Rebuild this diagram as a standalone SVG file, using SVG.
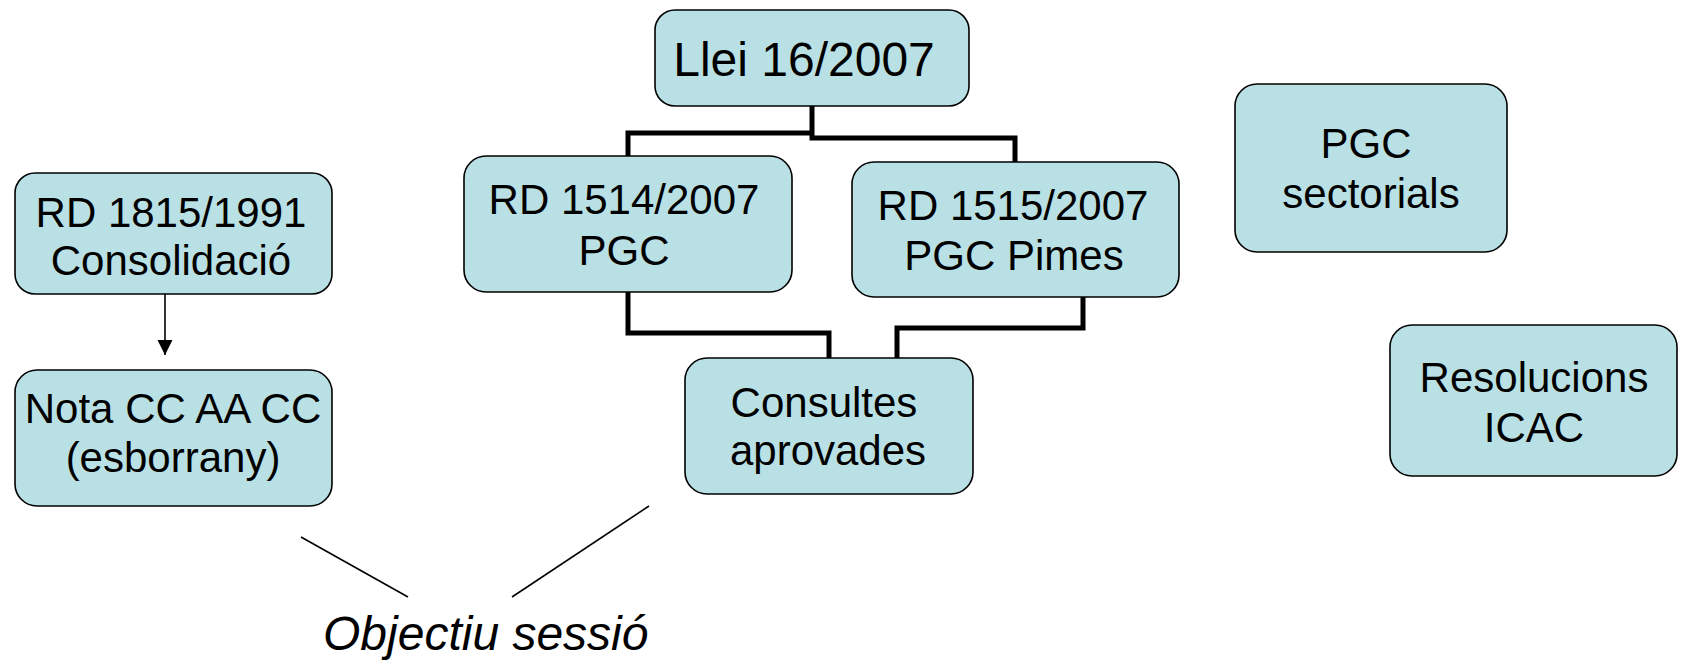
<svg xmlns="http://www.w3.org/2000/svg" width="1681" height="663" viewBox="0 0 1681 663">
  <style>
    .box { fill: #B9E0E4; stroke: #000; stroke-width: 1.6; }
    .t { font-family: "Liberation Sans", Arial, sans-serif; font-size: 42px; fill: #000; text-anchor: middle; }
    .big { font-size: 48px; }
    .conn { fill: none; stroke: #000; stroke-width: 5; stroke-linejoin: miter; stroke-linecap: butt; }
    .thin { fill: none; stroke: #000; stroke-width: 1.6; }
    .obj { font-family: "Liberation Sans", Arial, sans-serif; font-size: 48px; font-style: italic; fill: #000; }
  </style>
  <defs>
    <marker id="arr" markerWidth="16" markerHeight="16" refX="15" refY="8" orient="auto" markerUnits="userSpaceOnUse">
      <path d="M0,0.5 L15,8 L0,15.5 Z" fill="#000"/>
    </marker>
  </defs>

  <g id="connectors">
    <path class="conn" d="M628,156 V133 H812"/>
    <path class="conn" d="M812,106 V138 H1015 V162"/>
    <path class="conn" d="M628,292 V333 H829 V358"/>
    <path class="conn" d="M1083,297 V328 H897 V358"/>
    <line class="thin" x1="165" y1="294" x2="165" y2="355" marker-end="url(#arr)"/>
    <line class="thin" x1="301" y1="537" x2="408" y2="597"/>
    <line class="thin" x1="649" y1="506" x2="512" y2="597"/>
  </g>

  <g id="llei">
    <rect class="box" x="655" y="10" width="314" height="96" rx="20"/>
    <text class="t big" x="804" y="76">Llei 16/2007</text>
  </g>

  <g id="rd1514">
    <rect class="box" x="464" y="156" width="328" height="136" rx="22"/>
    <text class="t" x="624" y="214">RD 1514/2007</text>
    <text class="t" x="624" y="265">PGC</text>
  </g>

  <g id="rd1515">
    <rect class="box" x="852" y="162" width="327" height="135" rx="22"/>
    <text class="t" x="1013" y="220">RD 1515/2007</text>
    <text class="t" x="1014" y="270">PGC Pimes</text>
  </g>

  <g id="consultes">
    <rect class="box" x="685" y="358" width="288" height="136" rx="22"/>
    <text class="t" x="824" y="417">Consultes</text>
    <text class="t" x="828" y="465">aprovades</text>
  </g>

  <g id="pgc-sectorials">
    <rect class="box" x="1235" y="84" width="272" height="168" rx="22"/>
    <text class="t" x="1366" y="158">PGC</text>
    <text class="t" x="1371" y="208">sectorials</text>
  </g>

  <g id="resolucions">
    <rect class="box" x="1390" y="325" width="287" height="151" rx="22"/>
    <text class="t" x="1534" y="392">Resolucions</text>
    <text class="t" x="1534" y="442">ICAC</text>
  </g>

  <g id="rd1815">
    <rect class="box" x="15" y="173" width="317" height="121" rx="20"/>
    <text class="t" x="171" y="227">RD 1815/1991</text>
    <text class="t" x="171" y="275">Consolidació</text>
  </g>

  <g id="nota">
    <rect class="box" x="15" y="370" width="317" height="136" rx="22"/>
    <text class="t" x="173" y="423">Nota CC AA CC</text>
    <text class="t" x="173" y="472">(esborrany)</text>
  </g>

  <g id="objectiu">
    <text class="obj" x="323" y="650">Objectiu sessió</text>
  </g>
</svg>
